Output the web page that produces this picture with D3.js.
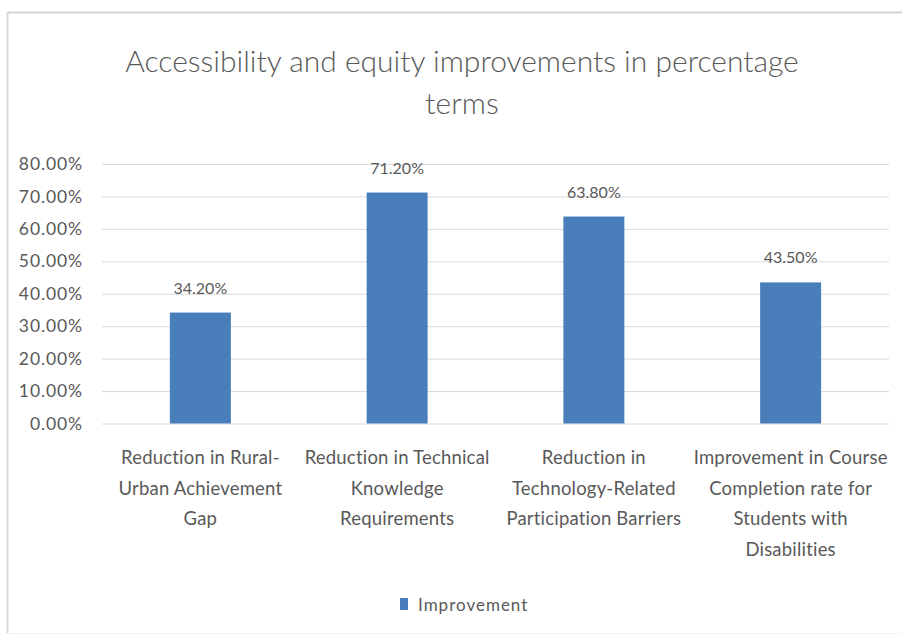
<!DOCTYPE html>
<html><head><meta charset="utf-8">
<script src="https://cdn.jsdelivr.net/npm/d3@7"></script>
<style>body{margin:0;background:#fff}svg{display:block}text{font-family:Lato,"Open Sans",sans-serif;fill:#595959}</style>
</head><body>
<script>
const title = ["Accessibility and equity improvements in percentage", "terms"];
const categories = [
  "Reduction in Rural-Urban Achievement Gap",
  "Reduction in Technical Knowledge Requirements",
  "Reduction in Technology-Related Participation Barriers",
  "Improvement in Course Completion rate for Students with Disabilities"
];
const categoryLines = [
  ["Reduction in Rural-", "Urban Achievement", "Gap"],
  ["Reduction in Technical", "Knowledge", "Requirements"],
  ["Reduction in", "Technology-Related", "Participation Barriers"],
  ["Improvement in Course", "Completion rate for", "Students with", "Disabilities"]
];
const values = [34.2, 71.2, 63.8, 43.5];
const yTicks = [0, 10, 20, 30, 40, 50, 60, 70, 80];
const seriesName = "Improvement";

const W = 902, H = 637;
const svg = d3.select("body").append("svg").attr("width", W).attr("height", H);

// chart border
svg.append("line").attr("x1", 7.5).attr("x2", 7.5).attr("y1", 12).attr("y2", 633).attr("stroke", "#d9d9d9").attr("stroke-width", 2);
svg.append("line").attr("x1", 7).attr("x2", W).attr("y1", 12.5).attr("y2", 12.5).attr("stroke", "#d4d4d4").attr("stroke-width", 2);
svg.append("line").attr("x1", 7).attr("x2", W).attr("y1", 633.5).attr("y2", 633.5).attr("stroke", "#f2f2f2").attr("stroke-width", 1);

const x = d3.scaleBand().domain(categories).range([102, 889]).paddingInner(0.69).paddingOuter(0.345);
const y = d3.scaleLinear().domain([0, 80]).range([423.5, 164]);

// title
svg.append("g").selectAll("text").data(title).join("text")
  .attr("x", 462).attr("y", (d, i) => 72 + i * 42)
  .attr("text-anchor", "middle").attr("font-size", 30).attr("font-weight", 300)
  .text(d => d);

// gridlines
const yAxis = d3.axisLeft(y).tickValues(yTicks).tickSize(-(889 - 102)).tickPadding(19)
  .tickFormat(d => d.toFixed(2) + "%");
const gy = svg.append("g").attr("transform", "translate(102,0)").call(yAxis);
gy.select(".domain").remove();
gy.selectAll(".tick line").attr("stroke", "#d9d9d9").attr("stroke-width", 1);
gy.selectAll(".tick text").attr("font-size", 17.5).attr("letter-spacing", 0.9)
  .attr("fill", "#595959").style("font-family", "Lato");

// bars
svg.append("g").selectAll("rect").data(values).join("rect")
  .attr("x", (d, i) => x(categories[i]))
  .attr("width", x.bandwidth())
  .attr("y", d => y(d))
  .attr("height", d => y(0) - y(d))
  .attr("fill", "#4a7ebb");

// data labels
svg.append("g").selectAll("text").data(values).join("text")
  .attr("x", (d, i) => x(categories[i]) + x.bandwidth() / 2)
  .attr("y", d => y(d) - 19)
  .attr("text-anchor", "middle").attr("font-size", 16)
  .text(d => d.toFixed(2) + "%");

// category labels
const gx = svg.append("g").selectAll("text").data(categoryLines).join("text")
  .attr("text-anchor", "middle").attr("font-size", 18.5).attr("letter-spacing", 0.2)
  .attr("transform", (d, i) => `translate(${x(categories[i]) + x.bandwidth() / 2},0)`);
gx.selectAll("tspan").data(d => d).join("tspan")
  .attr("x", 0).attr("y", (d, i) => 464 + i * 30.5).text(d => d);

// legend
const lg = svg.append("g").attr("transform", "translate(400,598)");
lg.append("rect").attr("width", 8).attr("height", 12).attr("fill", "#4a7ebb");
lg.append("text").attr("x", 18).attr("y", 12.5).attr("font-size", 17).attr("letter-spacing", 1).text(seriesName);
</script>
</body></html>
